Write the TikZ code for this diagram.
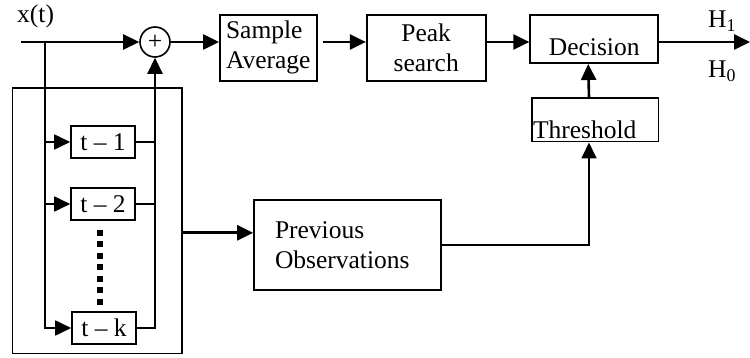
\documentclass[tikz,border=0pt]{standalone}
\usepackage{fontspec}
\setmainfont{Liberation Serif}
\usetikzlibrary{arrows.meta}
\begin{document}
\begin{tikzpicture}[x=1pt,y=-1pt,
  box/.style={draw,line width=1.6pt,inner sep=0pt},
  conn/.style={line width=2.6pt},
  thin conn/.style={line width=1.8pt},
  tip/.style={-{Triangle[length=16pt,width=15pt]}},
  arr/.style={conn,tip},
  thin arr/.style={thin conn,tip},
  every node/.style={font=\fontsize{25.5}{30}\selectfont}]
\useasboundingbox (0,0) rectangle (750,358);
% nodes
\node[anchor=base west,inner sep=0pt] (xt) at (17,23) {x(t)};
\node[draw,circle,line width=1.6pt,minimum size=30pt,inner sep=0pt] (sum) at (155,42) {+};
\node[box,minimum width=97pt,minimum height=66pt,align=left] (samp) at (268.3,47.8) {Sample\\Average};
\node[box,minimum width=119pt,minimum height=66pt,align=center] (peak) at (426.2,47.8) {Peak\\search};
\node[box,minimum width=128pt,minimum height=48pt,text height=32pt,text depth=0pt] (dec) at (594.2,39.2) {Decision};
\node[box,text width=124pt,inner xsep=1.3pt,minimum height=43.4pt,text height=36.6pt,text depth=0pt,align=left] (thr) at (595,120) {Threshold};
\node[box,text width=145pt,inner xsep=21pt,minimum height=90pt,align=left] (prev) at (347.5,245) {Previous\\Observations};
\node[box,minimum width=169.4pt,minimum height=265pt] (bank) at (97,220.8) {};
\node[box,minimum width=64pt,minimum height=32pt] (d1) at (103,142) {t -- 1};
\node[box,minimum width=64pt,minimum height=32pt] (d2) at (103,204) {t -- 2};
\node[box,minimum width=64pt,minimum height=32pt] (dk) at (104,328) {t -- k};
\node[anchor=base west,inner sep=0pt] (h1) at (708,28) {H\textsubscript{1}};
\node[anchor=base west,inner sep=0pt] (h0) at (708,78) {H\textsubscript{0}};
% coordinates
\coordinate (in) at (21,42);
\coordinate (split) at (45,42);
\coordinate (out) at (750,42);
\coordinate (dt) at (100,230);
\coordinate (db) at (100,307);
\coordinate (s1) at ([xshift=5pt]samp.east);
\coordinate (bo) at ([yshift=-12pt]bank.east);
% connectors
\draw[arr] (in) -- (sum.west);
\draw[thin arr] (split) |- (dk.west);
\draw[thin arr] (split |- d1.west) -- (d1.west);
\draw[thin arr] (split |- d2.west) -- (d2.west);
\draw[arr] (dk.east) -| (sum.south);
\draw[thin conn] (d1.east) -- (d1.east -| sum.south);
\draw[thin conn] (d2.east) -- (d2.east -| sum.south);
\draw[line width=6.5pt,dash pattern=on 6pt off 5.5pt] (dt) -- (db);
\draw[arr] (sum.east) -- (sum.east -| samp.west);
\draw[arr] (s1 |- sum.east) -- (peak.west |- sum.east);
\draw[arr] (peak.east |- sum.east) -- (dec.west |- sum.east);
\draw[arr] (dec.east |- out) -- (out);
\draw[arr] (bo) -- (bo -| prev.west);
\draw[thin arr] (prev.east) -| ([xshift=-6pt]thr.south);
\draw[arr] ([xshift=-6pt]thr.north) -- ([xshift=-6pt]dec.south);
\end{tikzpicture}
\end{document}
